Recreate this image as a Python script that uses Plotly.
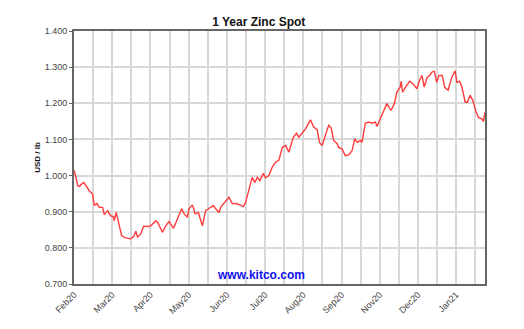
import plotly.graph_objects as go

# trading-day index (approx.) and zinc spot price (USD/lb)
days = [0, 0.9, 2.1, 3.2, 4.0, 5.6, 6.9, 8.8, 10.7, 11.7, 13.2, 14.5, 16.5, 17.4, 19.4, 20.9,
        22.8, 23.1, 24.3, 26.0, 27.4, 28.9, 30.8, 32.3, 34.3, 35.6, 36.6, 38.5, 40.0, 42.3, 44.2,
        47.1, 48.1, 50.9, 52.8, 54.7, 57.3, 59.6, 61.1, 62.0, 63.4, 65.3, 66.2, 68.2, 69.7, 71.6,
        73.9, 75.8, 77.7, 80.2, 81.6, 83.5, 84.4, 87.3, 89.2, 91.2, 93.1, 94.9, 97.5, 98.8, 100.7,
        102.6, 104.1, 105.5, 107.0, 109.0, 110.3, 112.2, 114.1, 116.0, 117.9, 119.9, 121.8, 123.7,
        126.2, 128.1, 129.4, 131.4, 133.3, 136.1, 138.0, 140.0, 141.3, 142.8, 144.7, 146.6, 148.0,
        149.5, 151.5, 152.4, 154.3, 156.2, 158.1, 160.1, 161.6, 163.0, 164.9, 165.8, 167.7, 169.6,
        171.6, 173.5, 174.4, 176.3, 178.2, 180.1, 182.5, 184.4, 185.9, 187.8, 188.4, 189.1, 190.7,
        193.2, 195.1, 197.4, 198.9, 200.3, 201.6, 203.2, 205.1, 206.0, 207.4, 208.8, 210.1, 212.0,
        213.4, 215.4, 216.1, 217.5, 219.4, 220.4, 221.9, 223.3, 225.2, 226.5, 228.0, 229.6, 231.5,
        232.8, 234.8, 235.7, 236.6]
prices = [1.015, 1.000, 0.972, 0.970, 0.975, 0.981, 0.972, 0.958, 0.949, 0.917, 0.923, 0.912,
          0.912, 0.892, 0.903, 0.889, 0.886, 0.875, 0.898, 0.861, 0.834, 0.829, 0.826, 0.825,
          0.831, 0.846, 0.829, 0.839, 0.860, 0.859, 0.861, 0.875, 0.871, 0.843, 0.861, 0.873,
          0.854, 0.880, 0.898, 0.908, 0.894, 0.885, 0.908, 0.919, 0.894, 0.898, 0.861, 0.903,
          0.909, 0.917, 0.908, 0.898, 0.912, 0.931, 0.940, 0.922, 0.923, 0.920, 0.914, 0.926,
          0.958, 0.995, 0.981, 0.995, 0.986, 1.006, 0.994, 1.000, 1.023, 1.037, 1.042, 1.078,
          1.083, 1.065, 1.106, 1.117, 1.106, 1.117, 1.129, 1.154, 1.134, 1.127, 1.092, 1.083,
          1.111, 1.139, 1.132, 1.097, 1.088, 1.078, 1.074, 1.055, 1.057, 1.069, 1.102, 1.092,
          1.097, 1.092, 1.145, 1.148, 1.145, 1.148, 1.136, 1.157, 1.182, 1.199, 1.180, 1.199,
          1.231, 1.245, 1.261, 1.231, 1.243, 1.261, 1.254, 1.240, 1.263, 1.277, 1.245, 1.271,
          1.279, 1.286, 1.289, 1.258, 1.277, 1.277, 1.244, 1.236, 1.249, 1.272, 1.290, 1.258,
          1.261, 1.245, 1.203, 1.203, 1.222, 1.208, 1.175, 1.161, 1.157, 1.150, 1.175]

month_labels = ["Feb20", "Mar20", "Apr20", "May20", "Jun20", "Jul20", "Aug20", "Sep20",
                "Nov20", "Dec20", "Jan21"]
y_ticks = [0.7, 0.8, 0.9, 1.0, 1.1, 1.2, 1.3, 1.4]

grid_step = 11
tickvals = [i * grid_step for i in range(22)]
ticktext = [month_labels[i // 2] if i % 2 == 0 else "" for i in range(22)]

fig = go.Figure()
fig.add_trace(go.Scatter(x=days, y=prices, mode="lines",
                         line=dict(color="#ff3b3b", width=1.4), showlegend=False))

fig.update_layout(
    width=516, height=321,
    margin=dict(l=66, r=39, t=23, b=45),
    paper_bgcolor="white", plot_bgcolor="white",
    font=dict(family="Liberation Sans, Arial, sans-serif", color="#333"),
    title=dict(text="<b>1 Year Zinc Spot</b>", x=0.486, xref="container", y=0.944,
               yanchor="bottom", xanchor="center",
               font=dict(size=12, color="#111")),
    xaxis=dict(range=[0, 236.6], tickmode="array", tickvals=tickvals, ticktext=ticktext,
               tickangle=-45, tickfont=dict(size=9, color="#444"),
               showgrid=True, gridcolor="#d8d8d8", gridwidth=1.5,
               showline=True, linecolor="#666", linewidth=2, mirror=True,
               ticks="", zeroline=False),
    yaxis=dict(range=[0.7, 1.4], tickmode="array", tickvals=y_ticks,
               ticktext=[f"{v:.3f}" for v in y_ticks], tickfont=dict(size=9, color="#444"),
               showgrid=True, gridcolor="#d8d8d8", gridwidth=1.5,
               showline=True, linecolor="#666", linewidth=2, mirror=True,
               ticks="outside", ticklen=3, tickcolor="#666", zeroline=False,
               title=dict(text="<b>USD / lb</b>", font=dict(size=8, color="#111"), standoff=3)),
)

fig.add_annotation(text="<b>www.kitco.com</b>", x=0.454, y=0.035, xref="paper", yref="paper",
                   showarrow=False, font=dict(size=12, color="#1010ee",
                                              family="Liberation Sans, Arial, sans-serif"),
                   yanchor="middle")

fig.write_html("out.html")
